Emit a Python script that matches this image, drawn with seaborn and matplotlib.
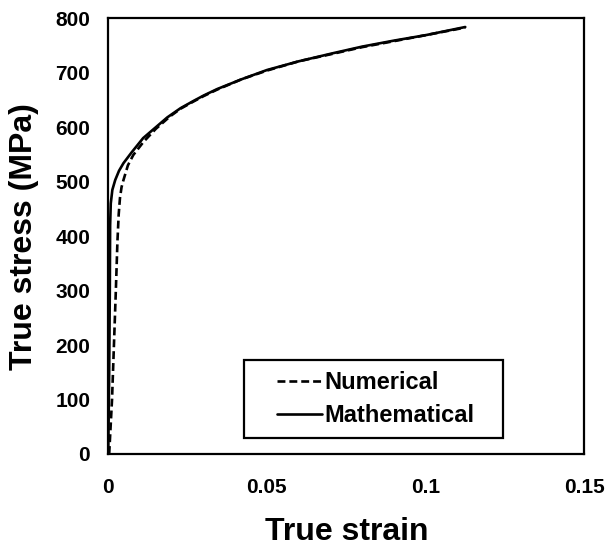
import matplotlib
matplotlib.use("Agg")
import matplotlib.pyplot as plt
from matplotlib.patches import Rectangle
import seaborn as sns
import pandas as pd

# Numerical (dashed) curve
num_strain = [0.0003, 0.0012, 0.0018, 0.0024, 0.0029, 0.0033, 0.0037, 0.0042, 0.0048, 0.0062, 0.0079, 0.0111,
              0.015, 0.0195, 0.0228, 0.0268, 0.03, 0.0343, 0.042, 0.05, 0.06, 0.0709, 0.08, 0.09, 0.1, 0.1125]
num_stress = [0, 100, 200, 300, 390, 440, 470, 490, 503, 530, 549, 573,
              597, 620, 634, 647, 657, 669, 688, 704, 721, 735, 747, 758, 769, 783]

# Mathematical (solid) curve
mat_strain = [0.0, 0.0003, 0.0005, 0.0006, 0.0008, 0.0013, 0.0022, 0.0034, 0.0048, 0.0074, 0.011, 0.015,
              0.0186, 0.0228, 0.0268, 0.03, 0.0343, 0.042, 0.05, 0.06, 0.0709, 0.08, 0.09, 0.1, 0.1125]
mat_stress = [0, 150, 300, 420, 460, 485, 503, 520, 534, 554, 580, 600,
              618, 635, 648, 658, 670, 688, 705, 721, 736, 748, 759, 769, 784]

df = pd.concat([
    pd.DataFrame({"strain": num_strain, "stress": num_stress, "series": "Numerical"}),
    pd.DataFrame({"strain": mat_strain, "stress": mat_stress, "series": "Mathematical"}),
])

sns.set_style("white")
plt.rcParams["font.family"] = ["Liberation Sans", "DejaVu Sans"]
plt.rcParams["font.weight"] = "bold"
plt.rcParams["text.color"] = "black"
plt.rcParams["axes.labelcolor"] = "black"
plt.rcParams["xtick.color"] = "black"
plt.rcParams["ytick.color"] = "black"

fig = plt.figure(figsize=(6.08, 5.46), dpi=100)
ax = fig.add_axes([0.178, 0.1685, 0.783, 0.798])

sns.lineplot(data=df, x="strain", y="stress", hue="series", style="series",
             palette={"Numerical": "black", "Mathematical": "black"},
             dashes={"Numerical": (3, 1.5), "Mathematical": ""},
             linewidth=1.9, sort=False, estimator=None, ax=ax)

ax.set_xlim(0, 0.15)
ax.set_ylim(0, 800)
ax.set_xticks([0, 0.05, 0.1, 0.15])
ax.set_xticklabels(["0", "0.05", "0.1", "0.15"])
ax.set_yticks(range(0, 801, 100))
ax.tick_params(axis="x", length=0, labelsize=15, pad=17)
ax.tick_params(axis="y", length=0, labelsize=15, pad=13)
for lab in ax.get_xticklabels() + ax.get_yticklabels():
    lab.set_fontweight("bold")
ax.set_xlabel("True strain", fontsize=23, fontweight="bold", labelpad=15)
ax.set_ylabel("True stress (MPa)", fontsize=23, fontweight="bold", labelpad=12)
for s in ax.spines.values():
    s.set_linewidth(1.6)
    s.set_color("black")

# legend frame box
ax.add_patch(Rectangle((0.2857, 0.0367), 0.5443, 0.1789, transform=ax.transAxes,
                       facecolor="white", edgecolor="black", linewidth=1.6, zorder=4))
leg = ax.legend(loc="center", bbox_to_anchor=(0.562, 0.126), borderaxespad=0,
                frameon=False, handlelength=1.9, handletextpad=0.1,
                borderpad=0.3, labelspacing=0.45,
                prop={"size": 17, "weight": "bold"})
leg.set_zorder(5)

fig.savefig("out.png", dpi=100)
